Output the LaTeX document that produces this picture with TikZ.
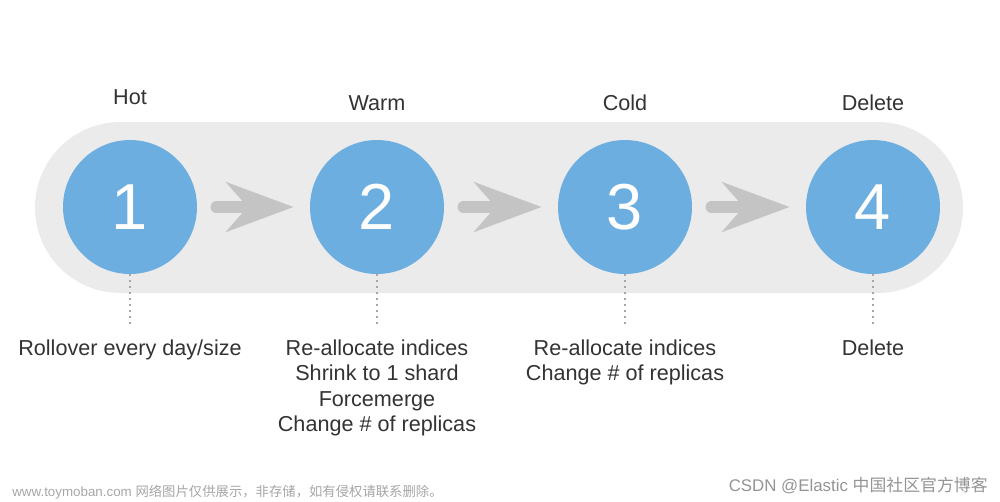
\documentclass[tikz,border=0pt]{standalone}
\usepackage{xcolor}
\usepackage{fontspec}
\setmainfont{Liberation Sans}
\newfontfamily\cjk{Noto Sans CJK SC}
\usetikzlibrary{arrows.meta, positioning}
\definecolor{phaseblue}{HTML}{6DAEE0}
\definecolor{pillgray}{HTML}{EBEBEB}
\definecolor{arrowgray}{HTML}{C4C4C4}
\definecolor{textgray}{HTML}{333333}

\begin{document}
\begin{tikzpicture}[x=0.02cm,y=-0.02cm]
      \useasboundingbox (0,0) rectangle (1000,501);
      \fill[pillgray,rounded corners=1.71cm] (35,122) rectangle (963,293);
      \begin{scope}[every node/.style={circle,fill=phaseblue,text=white,inner sep=0pt,minimum size=2.68cm,font=\fontsize{37}{37}\selectfont}]
      \node (p1) at (130,207) {1};
      \node (p2) at (377,207) {2};
      \node (p3) at (625,207) {3};
      \node (p4) at (873,207) {4};
      \end{scope}
      \begin{scope}[every node/.style={text=textgray,font=\fontsize{12.3}{14.5}\selectfont}]
      \node (t1) at (130,97) {Hot};
      \node (t2) at (377,103) {Warm};
      \node (t3) at (625,103) {Cold};
      \node (t4) at (873,103) {Delete};
      \end{scope}
      \begin{scope}[every node/.style={anchor=north,align=center,inner xsep=0pt,inner ysep=0.27cm,text=textgray,font=\fontsize{12.3}{14.5}\selectfont}]
      \node (a1) at (130,326) {Rollover every day/size};
      \node (a2) at (377,326) {Re-allocate indices\\Shrink to 1 shard\\Forcemerge\\Change \# of replicas};
      \node (a3) at (625,326) {Re-allocate indices\\Change \# of replicas};
      \node (a4) at (873,326) {Delete};
      \end{scope}
      \begin{scope}[every edge/.style={draw=arrowgray,line width=0.23cm,line cap=round,shorten <=0.38cm,shorten >=0.32cm,-{Stealth[length=1.34cm,width=0.98cm,inset=0.42cm]}}]
      \path (p1) edge (p2);
      \path (p2) edge (p3);
      \path (p3) edge (p4);
      \end{scope}
      \begin{scope}[every edge/.style={draw=black!35,line width=1pt,dash pattern=on 1pt off 2.4pt}]
      \path (p1) edge (a1);
      \path (p2) edge (a2);
      \path (p3) edge (a3);
      \path (p4) edge (a4);
      \end{scope}
      \node[anchor=west,inner sep=0pt,text=black!35,font=\fontsize{7.6}{8}\selectfont] (wm) at (12,492) {www.toymoban.com {\cjk 网络图片仅供展示，非存储，如有侵权请联系删除。}};
      \node[anchor=east,inner sep=0pt,text=black!42,font=\fontsize{9.6}{11}\selectfont] (csdn) at (988,485) {CSDN @Elastic {\cjk 中国社区官方博客}};
\end{tikzpicture}
\end{document}
